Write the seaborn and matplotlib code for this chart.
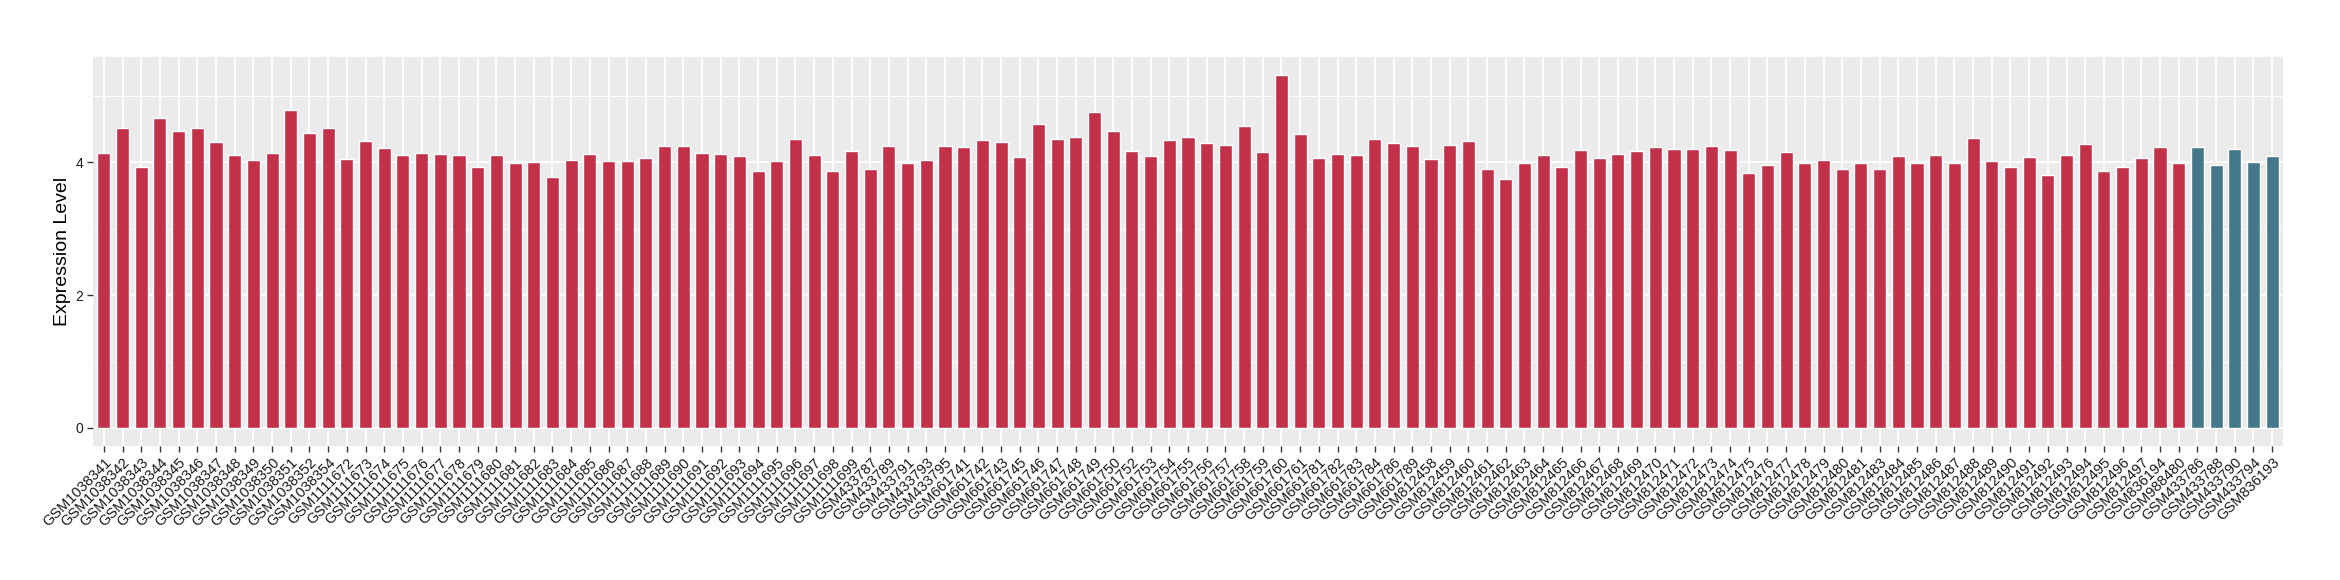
import matplotlib
matplotlib.use("Agg")
import matplotlib.pyplot as plt
import pandas as pd
import seaborn as sns
from matplotlib.ticker import MultipleLocator

samples = [
    "GSM1038341", "GSM1038342", "GSM1038343", "GSM1038344", "GSM1038345", "GSM1038346",
    "GSM1038347", "GSM1038348", "GSM1038349", "GSM1038350", "GSM1038351", "GSM1038352",
    "GSM1038354",
    "GSM1111672", "GSM1111673", "GSM1111674", "GSM1111675", "GSM1111676", "GSM1111677",
    "GSM1111678", "GSM1111679", "GSM1111680", "GSM1111681", "GSM1111682", "GSM1111683",
    "GSM1111684", "GSM1111685", "GSM1111686", "GSM1111687", "GSM1111688", "GSM1111689",
    "GSM1111690", "GSM1111691", "GSM1111692", "GSM1111693", "GSM1111694", "GSM1111695",
    "GSM1111696", "GSM1111697", "GSM1111698", "GSM1111699",
    "GSM433787", "GSM433789", "GSM433791", "GSM433793", "GSM433795",
    "GSM661741", "GSM661742", "GSM661743", "GSM661745", "GSM661746", "GSM661747",
    "GSM661748", "GSM661749", "GSM661750", "GSM661752", "GSM661753", "GSM661754",
    "GSM661755", "GSM661756", "GSM661757", "GSM661758", "GSM661759", "GSM661760",
    "GSM661761", "GSM661781", "GSM661782", "GSM661783", "GSM661784", "GSM661786",
    "GSM661789",
    "GSM812458", "GSM812459", "GSM812460", "GSM812461", "GSM812462", "GSM812463",
    "GSM812464", "GSM812465", "GSM812466", "GSM812467", "GSM812468", "GSM812469",
    "GSM812470", "GSM812471", "GSM812472", "GSM812473", "GSM812474", "GSM812475",
    "GSM812476", "GSM812477", "GSM812478", "GSM812479", "GSM812480", "GSM812481",
    "GSM812483", "GSM812484", "GSM812485", "GSM812486", "GSM812487", "GSM812488",
    "GSM812489", "GSM812490", "GSM812491", "GSM812492", "GSM812493", "GSM812494",
    "GSM812495", "GSM812496", "GSM812497",
    "GSM836194", "GSM988480",
    "GSM433786", "GSM433788", "GSM433790", "GSM433794", "GSM836193",
]

expression = [
    4.14, 4.52, 3.93, 4.66, 4.47, 4.52, 4.30, 4.11, 4.03, 4.14, 4.78, 4.44, 4.51,
    4.05, 4.32, 4.21, 4.11, 4.14, 4.12, 4.11, 3.92, 4.11,
    3.99, 4.00, 3.77, 4.03, 4.12, 4.02, 4.02, 4.06, 4.24, 4.24, 4.14, 4.12,
    4.09, 3.87, 4.02, 4.35, 4.11, 3.87, 4.17, 3.90, 4.24, 3.99, 4.03, 4.24,
    4.23, 4.33, 4.30, 4.08, 4.58, 4.35, 4.38, 4.75, 4.47, 4.17, 4.09, 4.33,
    4.38, 4.29, 4.26, 4.54, 4.15, 5.31, 4.42, 4.06, 4.12, 4.11, 4.35,
    4.29, 4.24, 4.05, 4.26, 4.32, 3.89, 3.75, 3.99, 4.11, 3.93, 4.18, 4.06,
    4.12, 4.17, 4.23, 4.20, 4.20, 4.24, 4.18, 3.84, 3.96, 4.15, 3.98, 4.03,
    3.90, 3.99, 3.90, 4.09, 3.98, 4.11, 3.99, 4.36, 4.02, 3.92, 4.08, 3.80,
    4.11, 4.27, 3.86, 3.93, 4.06, 4.23, 3.98,
    4.23, 3.95, 4.20, 4.00, 4.09,
]

groups = ["group1"] * 112 + ["group2"] * 5
palette = {"group1": "#C3304A", "group2": "#43788A"}


def main() -> None:
    sns.set_theme(style="darkgrid", rc={
        "axes.facecolor": "#EBEBEB",
        "grid.color": "white",
    })
    plt.rcParams["font.family"] = ["Liberation Sans", "DejaVu Sans"]

    df = pd.DataFrame({"sample": samples, "expression": expression, "group": groups})

    fig = plt.figure(figsize=(23.4, 5.8), dpi=100)
    ax = fig.add_axes([0.0396, 0.2316, 0.9362, 0.6706])
    sns.barplot(
        data=df,
        x="sample",
        y="expression",
        hue="group",
        order=samples,
        palette=palette,
        saturation=1,
        dodge=False,
        width=0.7,
        legend=False,
        ax=ax,
    )

    ax.set_xlim(-0.6, len(samples) - 0.4)
    ax.set_ylim(-0.266, 5.586)
    ax.yaxis.set_major_locator(MultipleLocator(2))
    ax.yaxis.set_minor_locator(MultipleLocator(1))
    ax.grid(which="major", axis="both", color="white", linewidth=1.3)
    ax.grid(which="minor", axis="y", color="white", linewidth=0.65)
    ax.set_axisbelow(True)
    for s in ax.spines.values():
        s.set_visible(False)

    ax.set_xlabel("")
    ax.set_ylabel("Expression Level", fontsize=14, color="black", labelpad=3)
    ax.tick_params(axis="both", which="major", length=4, width=1, color="#333333",
                   bottom=True, left=True, pad=3)
    ax.tick_params(axis="y", which="minor", length=0)
    ax.tick_params(axis="y", labelsize=10, labelcolor="#1a1a1a")
    ax.tick_params(axis="x", labelsize=10.5, labelcolor="#1a1a1a")
    for lab in ax.get_xticklabels():
        lab.set_rotation(45)
        lab.set_ha("right")
        lab.set_va("top")
        lab.set_rotation_mode("anchor")

    fig.savefig("out.png", dpi=100)
    plt.close(fig)


if __name__ == "__main__":
    main()
